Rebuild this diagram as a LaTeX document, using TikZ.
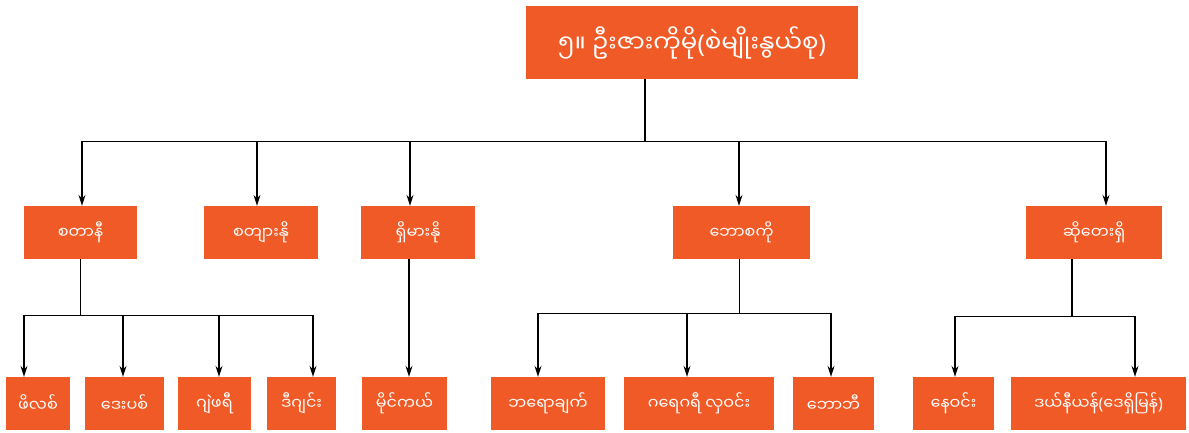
\documentclass[tikz,border=0pt]{standalone}
\usepackage{fontspec}
\newfontfamily\mmfont[Script=Myanmar]{Noto Sans Myanmar UI}
\newfontfamily\parfont{Noto Sans}
\newcommand{\lpar}{{\parfont(}}
\newcommand{\rpar}{{\parfont)}}
\usepackage{tikz}
\usetikzlibrary{arrows.meta}
\definecolor{boxorange}{RGB}{240,90,38}

\begin{document}
\begin{tikzpicture}[x=1pt, y=-1pt, >={Stealth[length=11pt,width=7pt]},
    box/.style={fill=boxorange, text=white, inner sep=0pt, font=\mmfont\fontsize{16}{19}\selectfont},
    link/.style={line width=1.3pt}]

    \useasboundingbox (0,0) rectangle (1189,432);

    % Top box
    \node[box, minimum width=332pt, minimum height=73pt, font=\mmfont\fontsize{24.5}{29}\selectfont] (root) at (692,42.5) {၅။ ဦးဇားကိုမို\lpar စဲမျိုးနွယ်စု\rpar};

    % Second row
    \node[box, minimum width=113pt, minimum height=53pt] (stani) at (80.5,232.5) {စတာနီ};
    \node[box, minimum width=114pt, minimum height=53pt] (stiano) at (261,232.5) {စတျားနို};
    \node[box, minimum width=114pt, minimum height=53pt] (shimano) at (418,232.5) {ရှိမားနို};
    \node[box, minimum width=137pt, minimum height=53pt] (bosco) at (741.5,232.5) {ဘောစကို};
    \node[box, minimum width=136pt, minimum height=53pt] (soteshi) at (1094,232.5) {ဆိုတေးရှိ};

    % Third row
    \node[box, minimum width=64pt, minimum height=53pt] (philip) at (38,403.5) {ဖိလစ်};
    \node[box, minimum width=79pt, minimum height=53pt] (david) at (124.5,403.5) {ဒေးပစ်};
    \node[box, minimum width=73pt, minimum height=53pt] (jeffrey) at (214.5,403.5) {ဂျဲဖရီ};
    \node[box, minimum width=69pt, minimum height=53pt] (digin) at (301.5,403.5) {ဒီဂျင်း};
    \node[box, minimum width=85pt, minimum height=53pt] (michael) at (404.5,403.5) {မိုင်ကယ်};
    \node[box, minimum width=114pt, minimum height=53pt] (brochet) at (548,403.5) {ဘရောချက်};
    \node[box, minimum width=150pt, minimum height=53pt] (gregory) at (699,403.5) {ဂရေဂရီ လှဝင်း};
    \node[box, minimum width=81pt, minimum height=53pt] (bobby) at (833.5,403.5) {ဘောဘီ};
    \node[box, minimum width=81pt, minimum height=53pt] (newin) at (953.5,403.5) {နေဝင်း};
    \node[box, minimum width=175pt, minimum height=53pt] (daniel) at (1098.5,403.5) {ဒယ်နီယန်\lpar ဒေရှိမြန်\rpar};

    % Top box down to the second row
    \draw[link] ([xshift=-47pt]root.south) -- ++(0,62) coordinate (j0);
    \draw[link, ->] (j0) -| ([xshift=1.5pt]stani.north);
    \draw[link, ->] (j0) -| ([xshift=-4pt]stiano.north);
    \draw[link, ->] (j0) -| ([xshift=-8pt]shimano.north);
    \draw[link, ->] (j0) -| ([xshift=-2.5pt]bosco.north);
    \draw[link, ->] (j0) -| ([xshift=12pt]soteshi.north);

    % Second row down to the third row
    \draw[link] (stani.south) -- ++(0,56) coordinate (j1);
    \draw[link, ->] (j1) -| ([xshift=-14pt]philip.north);
    \draw[link, ->] (j1) -| ([xshift=-1.5pt]david.north);
    \draw[link, ->] (j1) -| ([xshift=4.5pt]jeffrey.north);
    \draw[link, ->] (j1) -| ([xshift=11.5pt]digin.north);
    \draw[link, ->] ([xshift=-9pt]shimano.south) -- ([xshift=4.5pt]michael.north);
    \draw[link] ([xshift=-2pt]bosco.south) -- ++(0,54) coordinate (j2);
    \draw[link, ->] (j2) -| ([xshift=-10pt]brochet.north);
    \draw[link, ->] (j2) -| ([xshift=-12pt]gregory.north);
    \draw[link, ->] (j2) -| ([xshift=-2.5pt]bobby.north);
    \draw[link] ([xshift=-22pt]soteshi.south) -- ++(0,57) coordinate (j3);
    \draw[link, ->] (j3) -| ([xshift=1.5pt]newin.north);
    \draw[link, ->] (j3) -| ([xshift=36.5pt]daniel.north);

\end{tikzpicture}
\end{document}
